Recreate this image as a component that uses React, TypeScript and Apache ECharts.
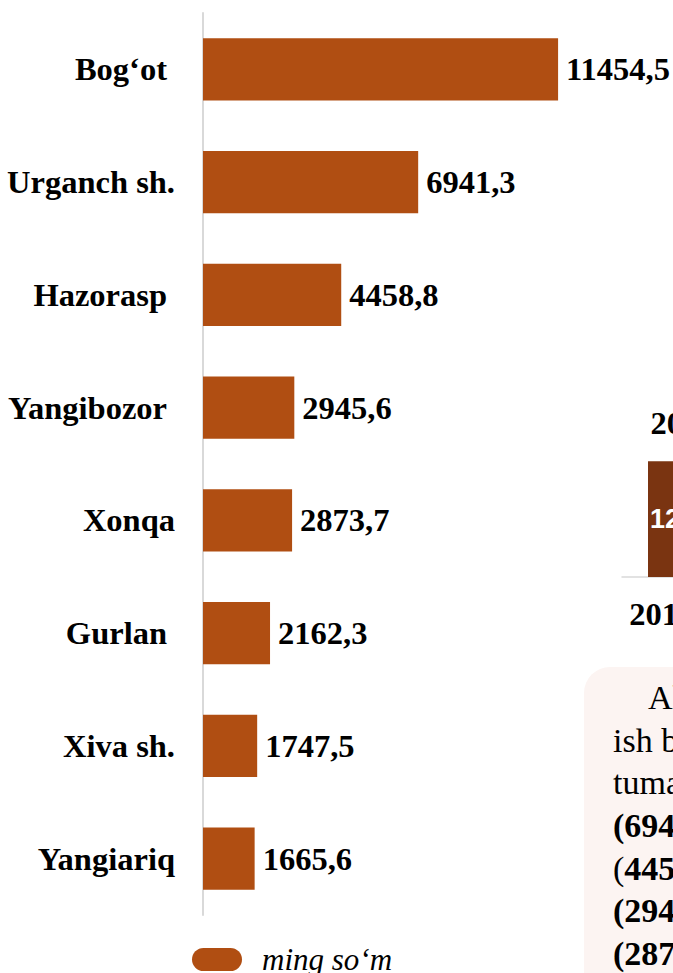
import React, { useEffect, useRef } from "react";
import * as echarts from "echarts";

const categories = ["Bog‘ot", "Urganch sh.", "Hazorasp", "Yangibozor", "Xonqa", "Gurlan", "Xiva sh.", "Yangiariq"];
const values = [11454.5, 6941.3, 4458.8, 2945.6, 2873.7, 2162.3, 1747.5, 1665.6];
const paddedLabels = ["Bog‘ot", "Hazorasp", "Yangibozor", "Gurlan"];
const seriesName = "ming so‘m";

const rightCategories = ["2019 yil"];
const rightValues = [12870.4];
const rightTopLabels = ["2020"];

const boxLines = [
  { x: 648, t: "{r|Aholi bandligi}" },
  { x: 613, t: "{r|ish bilan}" },
  { x: 613, t: "{r|tumanlar}" },
  { x: 613, t: `{b|(${String(values[1]).replace(".", ",")} mln so‘m)}` },
  { x: 613, t: `{r|(}{b|${String(values[2]).replace(".", ",")}}{r| mln so‘m)}` },
  { x: 613, t: `{b|(${String(values[3]).replace(".", ",")} mln so‘m)}` },
  { x: 613, t: `{b|(${String(values[4]).replace(".", ",")} mln so‘m)}` },
];

const SERIF = "'Liberation Serif', 'Times New Roman', serif";
const FS = 32.5;
const fmt = (v: number) => String(v).replace(".", ",");

export default function App() {
  const ref = useRef<HTMLDivElement>(null);
  useEffect(() => {
    if (!ref.current) return;
    const chart = echarts.init(ref.current, null, { renderer: "svg" });
    const baseY = 709;
    const step = 42.7;
    const fs = 34;
    chart.setOption({
      animation: false,
      backgroundColor: "#ffffff",
      legend: {
        left: 192,
        top: 944,
        padding: 0,
        itemWidth: 50,
        itemHeight: 23,
        icon: "path://M11.5,0 H38.5 A11.5,11.5 0 0 1 38.5,23 H11.5 A11.5,11.5 0 0 1 11.5,0 Z",
        data: [seriesName],
        textStyle: {
          fontFamily: SERIF,
          fontStyle: "italic",
          fontSize: 31,
          color: "#000",
          padding: [0, 0, 0, 15],
        },
      },
      graphic: [
        {
          type: "rect",
          shape: { x: 584, y: 667, width: 260, height: 420, r: 26 },
          style: { fill: "#fcf4f2" },
          z: 0,
        },
        ...boxLines.map((l, i) => ({
          type: "text",
          x: l.x,
          y: baseY + i * step - 0.34 * fs,
          z: 1,
          style: {
            text: l.t,
            verticalAlign: "middle",
            align: "left",
            rich: {
              r: { fontFamily: SERIF, fontSize: fs, fill: "#000", fontWeight: "normal" },
              b: { fontFamily: SERIF, fontSize: fs, fill: "#000", fontWeight: "bold" },
            },
          },
        })),
      ],
      grid: [
        { left: 203, top: 13, width: 434, height: 902, outerBoundsMode: "none", containLabel: false },
        { left: 622, top: 433, width: 122, height: 144, outerBoundsMode: "none", containLabel: false },
      ],
      xAxis: [
        { type: "value", gridIndex: 0, min: 0, max: 14000, show: false },
        {
          type: "category",
          gridIndex: 1,
          data: rightCategories,
          axisLine: { show: true, lineStyle: { color: "#d9d9d9", width: 1.5 } },
          axisTick: { show: false },
          axisLabel: { fontFamily: SERIF, fontWeight: "bold", fontSize: FS, color: "#000", margin: 20 },
        },
      ],
      yAxis: [
        {
          type: "category",
          gridIndex: 0,
          inverse: true,
          data: categories,
          axisLine: { show: true, lineStyle: { color: "#d9d9d9", width: 2 } },
          axisTick: { show: false },
          axisLabel: {
            margin: 28,
            formatter: (v: string) => (paddedLabels.includes(v) ? `{p|${v}}` : `{n|${v}}`),
            rich: {
              p: { fontFamily: SERIF, fontWeight: "bold", fontSize: FS, color: "#000", padding: [0, 8, 0, 0] },
              n: { fontFamily: SERIF, fontWeight: "bold", fontSize: FS, color: "#000" },
            },
          },
        },
        { type: "value", gridIndex: 1, min: 0, max: 16000, show: false },
      ],
      series: [
        {
          name: seriesName,
          type: "bar",
          xAxisIndex: 0,
          yAxisIndex: 0,
          data: values,
          barCategoryGap: "45%",
          itemStyle: { color: "#b04e12" },
          label: {
            show: true,
            position: "right",
            distance: 8,
            formatter: (p: any) => fmt(p.value),
            fontFamily: SERIF,
            fontWeight: "bold",
            fontSize: FS,
            color: "#000",
          },
        },
        {
          name: "right",
          type: "bar",
          xAxisIndex: 1,
          yAxisIndex: 1,
          data: rightValues,
          barWidth: 70,
          itemStyle: { color: "#7a3411" },
          label: {
            show: true,
            position: "insideLeft",
            distance: 2,
            formatter: (p: any) => fmt(p.value),
            fontFamily: "'Liberation Sans', Arial, sans-serif",
            fontWeight: "bold",
            fontSize: 27,
            color: "#fff",
          },
        },
        {
          name: "rightTop",
          type: "bar",
          xAxisIndex: 1,
          yAxisIndex: 1,
          data: rightValues,
          barWidth: 70,
          barGap: "-100%",
          itemStyle: { color: "rgba(0,0,0,0)" },
          label: {
            show: true,
            position: "top",
            distance: 22,
            formatter: (p: any) => rightTopLabels[p.dataIndex],
            fontFamily: SERIF,
            fontWeight: "bold",
            fontSize: FS,
            color: "#000",
          },
        },
      ],
    });
    return () => chart.dispose();
  }, []);
  return <div ref={ref} style={{ position: "absolute", left: 0, top: 0, width: 673, height: 973 }} />;
}
